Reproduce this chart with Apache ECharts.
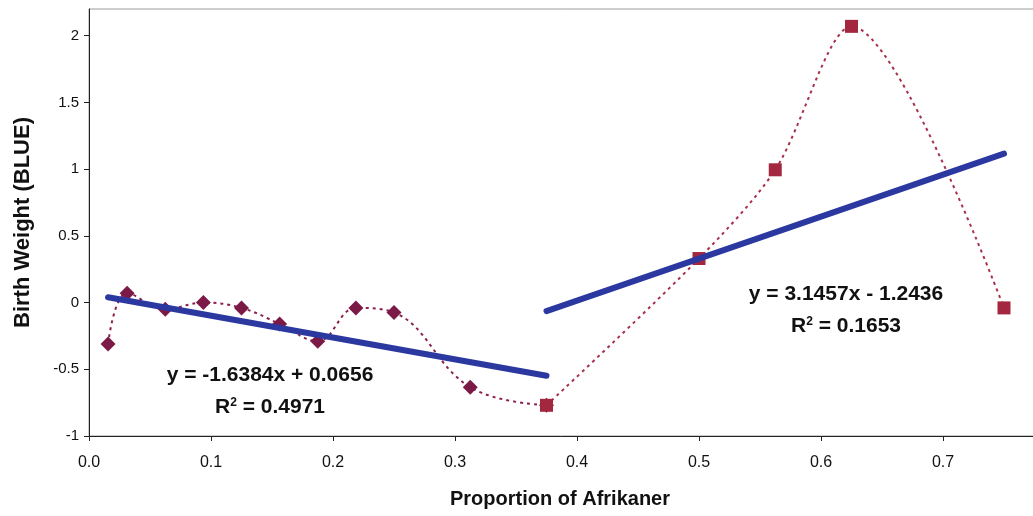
<!DOCTYPE html>
<html>
<head>
<meta charset="utf-8">
<script src="https://cdn.jsdelivr.net/npm/echarts@6/dist/echarts.min.js"></script>
<style>
  html, body { margin: 0; padding: 0; background: #fff; }
  #chart { width: 1033px; height: 516px; }
</style>
</head>
<body>
<div id="chart"></div>
<script>
// Proportion of Afrikaner ancestry (x) vs. birth weight BLUE (y)
const lowX  = [0.015625, 0.03125, 0.0625, 0.09375, 0.125, 0.15625, 0.1875, 0.21875, 0.25, 0.3125, 0.375];
const lowY  = [-0.31, 0.07, -0.05, 0.0, -0.04, -0.16, -0.29, -0.04, -0.075, -0.635, -0.77];
const highX = [0.375, 0.5, 0.5625, 0.625, 0.75];
const highY = [-0.77, 0.33, 0.995, 2.07, -0.04];

// Linear trendlines: [slope, intercept, xStart, xEnd]
const lowTrend  = [-1.6384, 0.0656, 0.015625, 0.375];
const highTrend = [3.1457, -1.2436, 0.375, 0.75];

const lowEq  = ['y = -1.6384x + 0.0656', '0.4971'];
const highEq = ['y = 3.1457x - 1.2436', '0.1653'];

const yTicks = { min: -1, max: 2.2, step: 0.5 };
const xTicks = { min: 0, max: 0.8, step: 0.1 };

const pairs = (xs, ys) => xs.map((x, i) => [x, ys[i]]);
const trendPts = t => [[t[2], t[0] * t[2] + t[1]], [t[3], t[0] * t[3] + t[1]]];

const chart = echarts.init(document.getElementById('chart'), null, { renderer: 'canvas' });

const FAM = '"Liberation Sans", Arial, sans-serif';
const BOLD = 'bold 21px ' + FAM;
const eqText = (eq, cx, cy) => ([
  {
    type: 'text', x: cx, y: cy, z: 10,
    style: { text: eq[0], font: BOLD, fill: '#111', align: 'center', verticalAlign: 'middle' }
  },
  {
    type: 'text', x: cx, y: cy + 32, z: 10,
    style: {
      text: '{r|R}{s|2}{r| = ' + eq[1] + '}',
      align: 'center', verticalAlign: 'middle',
      rich: {
        r: { font: BOLD, fill: '#111', verticalAlign: 'bottom' },
        s: { font: 'bold 12px ' + FAM, fill: '#111', verticalAlign: 'top', padding: [0, 0, 9, 0] }
      }
    }
  }
]);

chart.setOption({
  animation: false,
  grid: {
    left: 89, top: 9, width: 976, bottom: 80,
    outerBoundsMode: 'none', containLabel: false,
    show: true, borderColor: '#9a9a9a', borderWidth: 1
  },
  xAxis: {
    type: 'value', min: xTicks.min, max: xTicks.max, interval: xTicks.step,
    name: 'Proportion of Afrikaner', nameLocation: 'middle', nameGap: 53,
    nameTextStyle: { fontFamily: FAM, fontWeight: 'bold', fontSize: 20, color: '#111', padding: [0, 34, 0, 0] },
    axisLine: { onZero: false, lineStyle: { color: '#222', width: 1 } },
    axisTick: { show: true, inside: false, length: 5, lineStyle: { color: '#222' } },
    axisLabel: { margin: 19, fontSize: 16, color: '#111', fontFamily: FAM, formatter: v => v.toFixed(1) },
    splitLine: { show: false }
  },
  yAxis: {
    type: 'value', min: yTicks.min, max: yTicks.max, interval: yTicks.step,
    name: 'Birth Weight (BLUE)', nameLocation: 'middle', nameGap: 55, nameRotate: 90,
    nameTextStyle: { fontFamily: FAM, fontWeight: 'bold', fontSize: 22, color: '#111' },
    axisLine: { show: true, onZero: false, lineStyle: { color: '#222', width: 1 } },
    axisTick: { show: true, inside: false, length: 5, lineStyle: { color: '#222' } },
    axisLabel: { margin: 10, fontSize: 15, color: '#111', fontFamily: FAM, showMaxLabel: false },
    splitLine: { show: false }
  },
  series: [
    {
      type: 'line', data: pairs(lowX, lowY), smooth: 0.4,
      symbol: 'diamond', symbolSize: 15,
      itemStyle: { color: '#7c1a47' },
      lineStyle: { color: '#8a2050', width: 2, type: [3, 4] },
      z: 3
    },
    {
      type: 'line', data: pairs(highX, highY), smooth: 0.3,
      symbol: 'rect', symbolSize: 13,
      itemStyle: { color: '#a3283f' },
      lineStyle: { color: '#a8304a', width: 2, type: [3, 4] },
      z: 4
    },
    {
      type: 'line', data: trendPts(lowTrend), symbol: 'none',
      lineStyle: { color: '#2a38a0', width: 6, cap: 'round' }, z: 5
    },
    {
      type: 'line', data: trendPts(highTrend), symbol: 'none',
      lineStyle: { color: '#2a38a0', width: 6, cap: 'round' }, z: 5
    }
  ],
  graphic: [].concat(eqText(lowEq, 270, 375), eqText(highEq, 846, 294))
});
</script>
</body>
</html>
